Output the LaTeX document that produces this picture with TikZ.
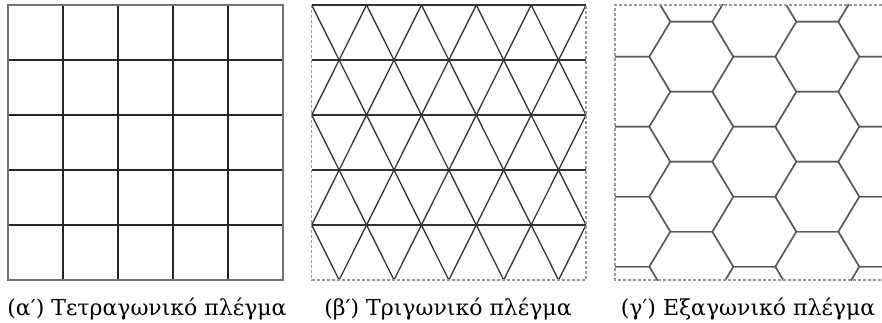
\documentclass[tikz,border=0pt]{standalone}
\usepackage{fontspec}
\setmainfont{DejaVu Serif}
\begin{document}
\begin{tikzpicture}[x=1pt,y=-1pt,
  sqline/.style={draw=black!85,line width=1.3pt},
  sqborder/.style={draw=black!55,line width=1.3pt},
  triline/.style={draw=black!80,line width=1.3pt},
  hexline/.style={draw=black!65,line width=1.4pt},
  dashborder/.style={draw=black!40,line width=1.2pt,dash pattern=on 3pt off 2pt},
  caption/.style={anchor=base,inner sep=0pt,font=\fontsize{22}{25}\selectfont}]
\useasboundingbox (0,0) rectangle (882,323);
% (a) square lattice
\foreach \i in {1,...,4} {
  \draw[sqline] (8+55*\i,5) -- (8+55*\i,280);
  \draw[sqline] (8,5+55*\i) -- (283,5+55*\i);
}
\draw[sqborder] (8,5) rectangle (283,280);
% (b) triangular lattice
\begin{scope}
\clip (311.7,5) rectangle (586,280);
\foreach \k in {-3,...,8} {
  \draw[triline] (311.7+54.86*\k,5) -- ++(137.15,275);
  \draw[triline] (311.7+54.86*\k,5) -- ++(-137.15,275);
}
\end{scope}
\foreach \j in {0,...,4} {
  \draw[triline] (311.7,5+55*\j) -- (586,5+55*\j);
}
\draw[dashborder] (311.7,5) -- (311.7,280) -- (586,280) -- (586,5);
% (c) hexagonal lattice
\begin{scope}
\clip (615,5) rectangle (882,280);
\foreach \c in {0,...,4} {
  \foreach \r in {-1,...,4} {
    \pgfmathsetmacro\hx{628.3+63*\c}
    \pgfmathsetmacro\hy{21.7+70*\r+35*mod(\c,2)}
    \draw[hexline] (\hx-42,\hy) -- ++(21,-35) -- ++(42,0) -- ++(21,35) -- ++(-21,35) -- ++(-42,0) -- cycle;
  }
}
\end{scope}
\draw[dashborder] (882,5) -- (615,5) -- (615,280) -- (882,280);
% captions
\node[caption] (capa) at (147,315) {(α′) Τετραγωνικό πλέγμα};
\node[caption] (capb) at (448,315) {(β′) Τριγωνικό πλέγμα};
\node[caption] (capc) at (748,315) {(γ′) Εξαγωνικό πλέγμα};
\end{tikzpicture}
\end{document}
